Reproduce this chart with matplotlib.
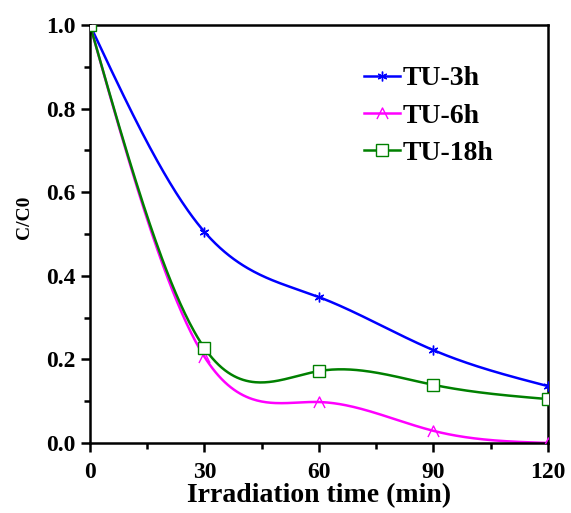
import numpy as np
import matplotlib
matplotlib.use("Agg")
import matplotlib.pyplot as plt
from matplotlib.path import Path
from matplotlib.ticker import MultipleLocator

time = [0, 30, 60, 90, 120]
tu3 = [1.0, 0.505, 0.349, 0.222, 0.136]
tu6 = [1.0, 0.206, 0.098, 0.029, 0.0]
tu18 = [1.0, 0.227, 0.172, 0.139, 0.105]
labels = ["TU-3h", "TU-6h", "TU-18h"]
colors = ["#0000ff", "#ff00ff", "#008000"]


def natural_spline(x, y, n=300):
    x = np.asarray(x, float); y = np.asarray(y, float)
    m = len(x); h = np.diff(x)
    A = np.zeros((m, m)); b = np.zeros(m)
    A[0, 0] = A[-1, -1] = 1
    for i in range(1, m - 1):
        A[i, i - 1] = h[i - 1]; A[i, i] = 2 * (h[i - 1] + h[i]); A[i, i + 1] = h[i]
        b[i] = 6 * ((y[i + 1] - y[i]) / h[i] - (y[i] - y[i - 1]) / h[i - 1])
    M = np.linalg.solve(A, b)
    xs = np.linspace(x[0], x[-1], n)
    idx = np.clip(np.searchsorted(x, xs) - 1, 0, m - 2)
    x0, x1 = x[idx], x[idx + 1]; hh = x1 - x0
    ys = (M[idx] * (x1 - xs) ** 3 / (6 * hh) + M[idx + 1] * (xs - x0) ** 3 / (6 * hh)
          + (y[idx] / hh - M[idx] * hh / 6) * (x1 - xs) + (y[idx + 1] / hh - M[idx + 1] * hh / 6) * (xs - x0))
    return xs, ys

plt.rcParams['font.family'] = ['Liberation Serif', 'DejaVu Serif']
plt.rcParams['font.weight'] = 'bold'

fig = plt.figure(figsize=(5.71, 5.13), dpi=100)
ax = fig.add_axes([0.1576, 0.1365, 0.8021, 0.8148])

wedge = Path([(-1, -1), (0, 1), (1, -1)], [Path.MOVETO, Path.LINETO, Path.LINETO])
markers = [(6, 2, 0), wedge, 's']
msizes = [7, 8, 9]

for ys, lab, c, mk, ms in zip([tu3, tu6, tu18], labels, colors, markers, msizes):
    xs, yy = natural_spline(time, ys)
    mfc = 'white' if mk == 's' else 'none'
    ax.plot(xs, yy, color=c, lw=1.8, zorder=2)
    ax.plot(time, ys, linestyle='none', marker=mk, ms=ms, mfc=mfc,
            mec=c, mew=1.0, zorder=3, clip_on=True)
    ax.plot([], [], color=c, lw=1.8, marker=mk, ms=ms, mfc=mfc,
            mec=c, mew=1.0, label=lab)

ax.set_xlim(0, 120)
ax.set_ylim(0, 1.0)
ax.xaxis.set_major_locator(MultipleLocator(30))
ax.xaxis.set_minor_locator(MultipleLocator(15))
ax.yaxis.set_minor_locator(MultipleLocator(0.1))
ax.set_yticks([0, 0.2, 0.4, 0.6, 0.8, 1.0])
ax.set_yticklabels(["0.0", "0.2", "0.4", "0.6", "0.8", "1.0"])
ax.tick_params(which='major', direction='out', length=6.5, width=1.8, labelsize=17)
ax.tick_params(which='minor', direction='out', length=4, width=1.8)
ax.tick_params(axis='x', which='major', pad=7)
ax.tick_params(axis='y', which='major', pad=4)
for sp in ax.spines.values():
    sp.set_linewidth(1.8)
for t in ax.get_xticklabels() + ax.get_yticklabels():
    t.set_fontweight('bold')

ax.set_xlabel("Irradiation time (min)", fontsize=20, fontweight='bold', labelpad=0)
ax.set_ylabel("C/C0", fontsize=14, fontweight='bold')
ax.yaxis.set_label_coords(-0.124, 0.54)

leg = ax.legend(loc='upper left', bbox_to_anchor=(0.568, 0.935), frameon=False,
                prop={'size': 20, 'weight': 'bold'}, handlelength=1.3,
                handletextpad=0.1, labelspacing=0.42, borderpad=0)

fig.savefig("out.png", dpi=100)
